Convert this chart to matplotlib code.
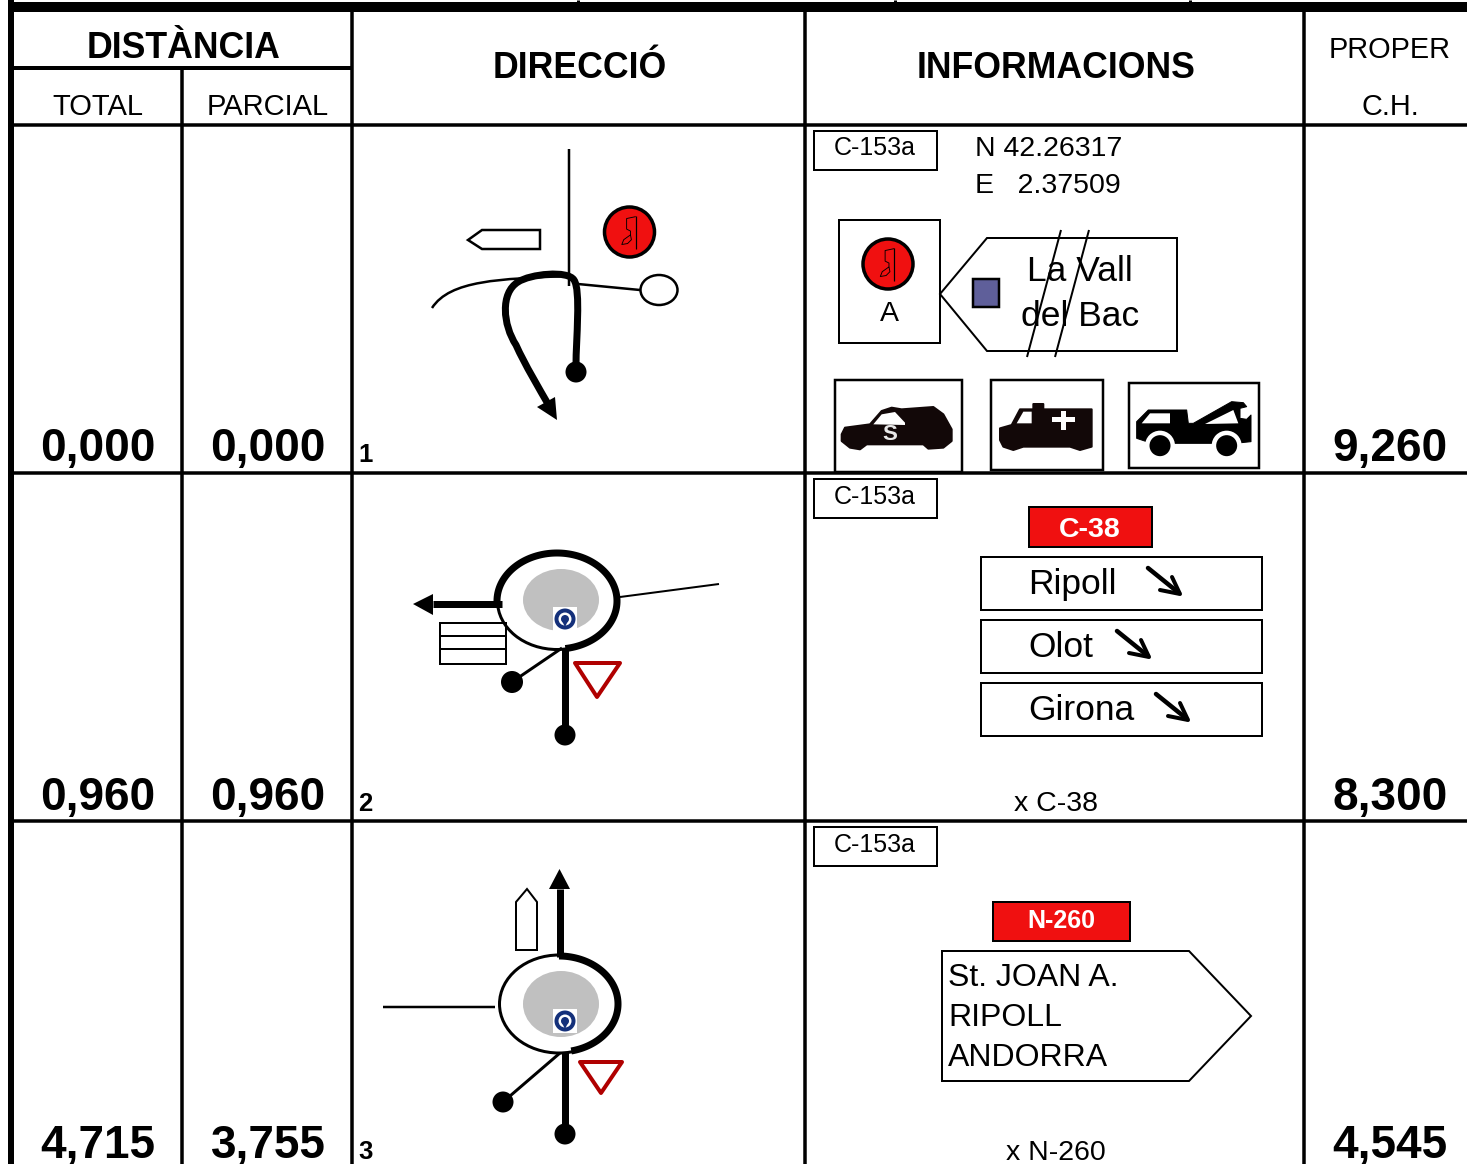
import numpy as np
import matplotlib
matplotlib.use('Agg')
import matplotlib.pyplot as plt
from matplotlib.patches import Polygon, Circle, Ellipse, Rectangle, PathPatch
from matplotlib.path import Path

plt.rcParams['font.family'] = ['Liberation Sans', 'DejaVu Sans']

# table contents
totals = ['0,000', '0,960', '4,715']
partials = ['0,000', '0,960', '3,755']
next_ch = ['9,260', '8,300', '4,545']
row_numbers = ['1', '2', '3']
road_label = 'C-153a'
coords = ['N 42.26317', 'E   2.37509']
signs_row2 = ['Ripoll', 'Olot', 'Girona']
signs_row3 = ['St. JOAN A.', 'RIPOLL', 'ANDORRA']
crossing_notes = ['', 'x C-38', 'x N-260']

row_base = [461, 810, 1158]


def px(v):
    return v * 0.72


fig = plt.figure(figsize=(14.67, 11.64), dpi=100)
ax = fig.add_axes([0, 0, 1, 1])
ax.set_xlim(0, 1467)
ax.set_ylim(1164, 0)
ax.axis('off')


def line(x, y, w=2, c='black', z=3, cap='butt'):
    ax.plot(x, y, color=c, lw=px(w), solid_capstyle=cap, zorder=z, solid_joinstyle='round')


def poly(pts, fc='white', ec='black', w=2, z=3, join='miter'):
    ax.add_patch(Polygon(pts, closed=True, fc=fc, ec=ec, lw=px(w), zorder=z, joinstyle=join))


def box(x0, y0, x1, y1, fc='white', ec='black', w=2, z=3):
    ax.add_patch(Rectangle((x0, y0), x1 - x0, y1 - y0, fc=fc, ec=ec, lw=px(w), zorder=z))


def dot(x, y, r, fc='black', ec='none', w=0, z=5):
    ax.add_patch(Circle((x, y), r, fc=fc, ec=ec, lw=px(w), zorder=z))


def txt(x, y, s, size, bold=False, ha='center', c='black', z=6):
    ax.text(x, y, s, fontsize=size, fontweight='bold' if bold else 'normal',
            ha=ha, va='baseline', color=c, zorder=z)


def curve(verts, w, z=4):
    codes = [Path.MOVETO] + [Path.CURVE4] * (len(verts) - 1)
    ax.add_patch(PathPatch(Path(verts, codes), fc='none', ec='black', lw=px(w),
                           capstyle='butt', joinstyle='round', zorder=z))


def arc(cx, cy, rx, ry, t0, t1, w, z=4):
    t = np.radians(np.linspace(t0, t1, 120))
    line(cx + rx * np.cos(t), cy + ry * np.sin(t), w=w, z=z)


def flag(cx, cy, r):
    dot(cx, cy, r, fc='#f01010', ec='black', w=3.5, z=5)
    s = r / 26
    line([cx + 6.5 * s, cx + 6.5 * s], [cy - 17 * s, cy + 18 * s], w=1.2, z=6)
    line(cx + s * np.array([6.5, -3, -3, 1, 1, -6, -8, -2, 2, 1]),
         cy + s * np.array([-16, -14, -3, -1, 3, 8, 13, 12, 8, 3]), w=0.9, z=6)


def roundabout_sign(cx, cy):
    box(cx - 12, cy - 12, cx + 12, cy + 12, fc='white', ec='none', w=0, z=5)
    dot(cx, cy, 10.5, fc='#14307a', z=6)
    dot(cx, cy, 6.5, fc='white', z=6)
    dot(cx, cy, 4, fc='#14307a', z=6)
    poly([(cx - 3.5, cy + 1), (cx + 3.5, cy + 1), (cx, cy + 8)], fc='#14307a', ec='none', w=0, z=6)


def yield_sign(pts):
    ax.add_patch(Polygon(pts, closed=True, fc='white', ec='#b00000', lw=px(4), zorder=4, joinstyle='round'))


def crop(pts, ox, oy):
    return [(x / 3 + ox, y / 3 + oy) for x, y in pts]


# grid
line([14, 1467], [7, 7], w=10)
line([11, 11], [0, 1164], w=6)
for x in [578, 895, 1190]:
    line([x, x], [0, 3], w=3)
line([14, 351], [68, 68], w=4)
for y in [125, 473, 821]:
    line([14, 1467], [y, y], w=3.5)
line([182, 182], [68, 1164], w=3.5)
for x in [352, 805, 1304]:
    line([x, x], [12, 1164], w=3.5)

# header
txt(184, 57.5, 'DISTÀNCIA', 25.7, bold=True)
txt(98, 115, 'TOTAL', 21)
txt(268, 115, 'PARCIAL', 21)
txt(580, 78, 'DIRECCIÓ', 25.7, bold=True)
txt(1056, 78, 'INFORMACIONS', 25.7, bold=True)
txt(1390, 58, 'PROPER', 20.8)
txt(1390, 115, 'C.H.', 20.8)

# distances
for i in range(3):
    txt(98, row_base[i], totals[i], 33, bold=True)
    txt(268, row_base[i], partials[i], 33, bold=True)
    txt(1390, row_base[i], next_ch[i], 33, bold=True)
    txt(358, row_base[i] + 1, row_numbers[i], 18.5, bold=True, ha='left')
    box(814, [131, 479, 827][i], 937, [170, 518, 866][i])
    txt(875, [155, 504, 852][i], road_label, 18)
    if crossing_notes[i]:
        txt(1056, [0, 811, 1160][i], crossing_notes[i], 20.5)

# row 1 drawing
line([568.5, 568.5], [149, 286], w=2.5)
poly([(468, 240), (482, 230), (540, 230), (540, 249), (482, 249)], w=2.5)
flag(629.5, 232, 25)
curve([(432, 308), (450, 280), (500, 279), (568, 276)], 2.5)
line([578, 640], [284, 290], w=2.5)
ax.add_patch(Ellipse((659, 290), 37, 30, fc='white', ec='black', lw=px(2.5), zorder=4))
curve([(576, 365), (576, 340), (581, 290), (574, 280),
       (568, 270), (530, 274), (518, 282),
       (500, 293), (503, 325), (516, 345),
       (525, 365), (540, 390), (548, 404)], 7)
poly([(557, 420), (537, 407), (555, 397)], fc='black', ec='none', w=0, z=5)
dot(576, 372, 10.5)

# row 1 info
txt(975, 156, coords[0], 20.5, ha='left')
txt(975, 193, coords[1], 20.5, ha='left')
box(839, 220, 940, 343)
flag(888, 264, 25)
txt(889, 321, 'A', 20.5)
poly([(940, 294), (987, 238), (1177, 238), (1177, 351), (987, 351)])
box(973, 279, 999, 307, fc='#5f5f9a', w=2.5)
txt(1080, 281, 'La Vall', 25.5)
txt(1080, 326, 'del Bac', 25.5)
line([1061, 1027], [230, 357], w=2, z=7)
line([1089, 1055], [230, 357], w=2, z=7)

# service icons
box(835, 380, 962, 472, w=2.5)
box(991, 380, 1103, 470, w=2.5)
box(1129, 383, 1259, 468, w=2.5)
poly(crop([(35, 175), (45, 155), (120, 145), (155, 105), (185, 95), (215, 100), (310, 93),
           (340, 115), (365, 160), (365, 195), (340, 215), (295, 218), (280, 205), (110, 205),
           (90, 220), (60, 215), (35, 195)], 830, 376), fc='#120808', ec='#120808', w=2, z=4, join='round')
poly(crop([(130, 145), (155, 115), (195, 108), (225, 140), (225, 147)], 830, 376), ec='none', w=0, z=5)
txt(890, 440, 'S', 16, bold=True, c='#e8e8e8')
poly(crop([(570, 175), (605, 165), (630, 118), (670, 118), (670, 102), (700, 102), (700, 118),
           (845, 118), (845, 230), (810, 240), (780, 230), (640, 230), (610, 240), (580, 230),
           (570, 210)], 810, 370), fc='#120808', ec='#120808', w=2, z=4, join='round')
poly(crop([(620, 160), (640, 125), (665, 125), (665, 160)], 810, 370), ec='none', w=0, z=5)
poly(crop([(725, 140), (752, 140), (752, 122), (768, 122), (768, 140), (795, 140), (795, 157),
           (768, 157), (768, 180), (752, 180), (752, 157), (725, 157)], 810, 370), ec='none', w=0, z=5)
poly(crop([(35, 125), (70, 90), (185, 90), (190, 130), (205, 130), (320, 65), (355, 68), (365, 80),
           (345, 85), (345, 115), (365, 118), (378, 105), (378, 185), (330, 190), (80, 190),
           (35, 175)], 1125, 380), fc='black', ec='black', w=1, z=4, join='round')
poly(crop([(50, 130), (75, 100), (135, 100), (135, 130)], 1125, 380), ec='none', w=0, z=5)
poly(crop([(240, 132), (325, 90), (340, 130)], 1125, 380), ec='none', w=0, z=5)
for wx, wy in crop([(105, 197), (305, 197)], 1125, 380):
    dot(wx, wy, 15, fc='white', z=5)
    dot(wx, wy, 10.5, fc='black', z=6)

# row 2 drawing
ax.add_patch(Ellipse((561, 600), 76, 62, fc='#c0c0c0', ec='none', zorder=2))
ax.add_patch(Ellipse((557, 601), 119, 97, fc='none', ec='black', lw=px(3), zorder=4))
arc(557, 601, 60, 48, 176, 442, 7)
roundabout_sign(565, 619)
line([620, 719], [597, 584], w=2)
line([433, 502], [604, 604], w=7)
poly([(413, 604), (433, 594), (433, 615)], fc='black', ec='none', w=0)
box(440, 623, 506, 664, fc='none', w=2)
line([440, 506], [636, 636], w=2)
line([440, 506], [649, 649], w=2)
line([562, 512], [648, 682], w=3)
dot(512, 682, 11)
line([565, 565], [648, 735], w=7)
dot(565, 735, 10.5)
yield_sign([(575, 663), (620, 663), (597, 697)])

# row 2 info
box(1029, 507, 1152, 547, fc='#f01010', w=2)
txt(1090, 537, 'C-38', 20.5, bold=True, c='white')
arrow_x = [1148, 1117, 1156]
for i, name in enumerate(signs_row2):
    y0 = [557, 620, 683][i]
    box(981, y0, 1262, y0 + 53)
    txt(1028, y0 + 37, name, 25.5, ha='left')
    x0 = arrow_x[i]
    line([x0, x0 + 31], [y0 + 11, y0 + 36], w=4.5, z=6, cap='round')
    line([x0 + 24, x0 + 32, x0 + 12], [y0 + 20, y0 + 37, y0 + 33], w=4, z=6, cap='round')

# row 3 drawing
ax.add_patch(Ellipse((561, 1004), 76, 66, fc='#c0c0c0', ec='none', zorder=2))
ax.add_patch(Ellipse((559, 1004), 119, 98, fc='none', ec='black', lw=px(3), zorder=4))
arc(559, 1004, 59, 48, 270, 438, 7)
roundabout_sign(565, 1021)
line([383, 495], [1007, 1007], w=2.5)
line([559.5, 559.5], [889, 957], w=7)
poly([(559.5, 869), (549, 889), (570, 889)], fc='black', ec='none', w=0)
poly([(527, 889), (537, 902), (537, 950), (516, 950), (516, 902)], w=2)
line([560, 503], [1053, 1102], w=3)
dot(503, 1102, 10.5)
line([565, 565], [1052, 1134], w=7)
dot(565, 1134, 10.5)
yield_sign([(580, 1062), (622, 1062), (601, 1093)])

# row 3 info
box(993, 902, 1130, 941, fc='#f01010', w=2)
txt(1061, 928, 'N-260', 18, bold=True, c='white')
poly([(942, 951), (1189, 951), (1251, 1016), (1189, 1081), (942, 1081)])
for i, name in enumerate(signs_row3):
    txt(948, [986, 1026, 1066][i], name, 23, ha='left')

fig.savefig('out.png', dpi=100)
